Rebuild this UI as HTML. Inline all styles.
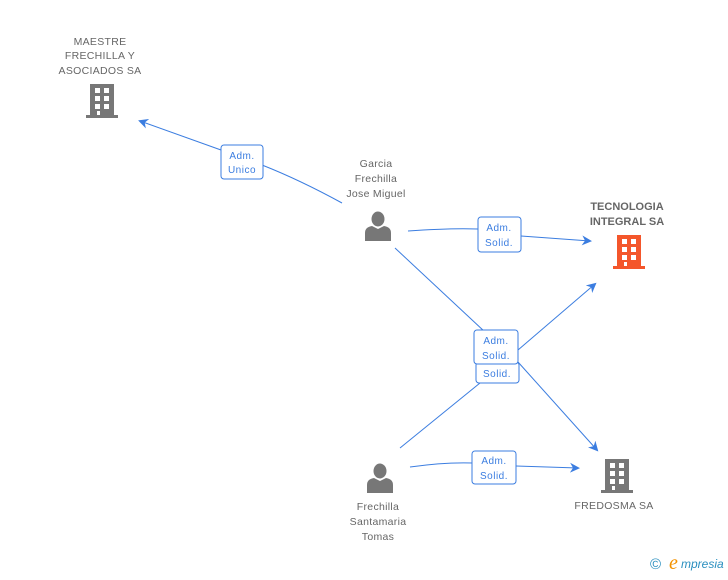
<!DOCTYPE html>
<html><head><meta charset="utf-8"><style>
body{margin:0;width:728px;height:575px;background:#fff;overflow:hidden;font-family:"Liberation Sans",sans-serif}
</style></head><body>
<svg width="728" height="575" viewBox="0 0 728 575" xmlns="http://www.w3.org/2000/svg" font-family="Liberation Sans, sans-serif">
<defs>
<g id="bld">
<rect x="4" y="0" width="24" height="31"/>
<rect x="0" y="31" width="32" height="3"/>
</g>
<g id="win" fill="#fff">
<rect x="9" y="4" width="5" height="5"/><rect x="18" y="4" width="5" height="5"/>
<rect x="9" y="12" width="5" height="5"/><rect x="18" y="12" width="5" height="5"/>
<rect x="9" y="20" width="5" height="5"/><rect x="18" y="20" width="5" height="5"/>
<rect x="11" y="27" width="3" height="4"/>
</g>
<g id="per" fill="#777">
<ellipse cx="13" cy="7" rx="6.5" ry="7.5"/>
<path d="M0 29 L0 21 Q0 15 7 14 L13 17 L19 14 Q26 15 26 21 L26 29 Z"/>
</g>
<marker id="ar" markerWidth="10" markerHeight="10" refX="8" refY="5" orient="auto" markerUnits="userSpaceOnUse"><path d="M0 0 L10 5 L0 10 L3 5 Z" fill="#3b7de0"/></marker>
</defs>
<g stroke="#3b7de0" stroke-width="1" fill="none">
<path d="M342 203 Q300 180 262 165"/>
<path d="M221 150 L140 121" marker-end="url(#ar)"/>
<path d="M408 231 Q450 228 478 229"/>
<path d="M521 236 L590 241" marker-end="url(#ar)"/>
<path d="M395 248 L485 332"/>
<path d="M518 350 L595 284" marker-end="url(#ar)"/>
<path d="M518 362 L597 450" marker-end="url(#ar)"/>
<path d="M400 448 L480 383"/>
<path d="M410 467 Q445 462 473 463"/>
<path d="M516 466 L578 468" marker-end="url(#ar)"/>
</g>
<g fill="#fff" stroke="#3b7de0" stroke-width="1">
<rect x="221" y="145" width="42" height="34" rx="3"/>
<rect x="478" y="217" width="43" height="35" rx="3"/>
<rect x="476" y="362" width="43" height="21" rx="3"/>
<rect x="474" y="330" width="44" height="34" rx="3"/>
<rect x="472" y="451" width="44" height="33" rx="3"/>
</g>
<g fill="#3b7de0" font-size="10" text-anchor="middle" letter-spacing="0.5">
<text x="242" y="159">Adm.</text><text x="242" y="173">Unico</text>
<text x="499" y="231">Adm.</text><text x="499" y="246">Solid.</text>
<text x="497" y="377">Solid.</text>
<text x="496" y="344">Adm.</text><text x="496" y="359">Solid.</text>
<text x="494" y="464">Adm.</text><text x="494" y="479">Solid.</text>
</g>
<g fill="#777"><use href="#bld" x="86" y="84"/><use href="#bld" x="601" y="459"/></g>
<use href="#win" x="86" y="84"/><use href="#win" x="601" y="459"/>
<g fill="#f4562b"><use href="#bld" x="613" y="235"/></g>
<use href="#win" x="613" y="235"/>
<use href="#per" x="365" y="212"/>
<use href="#per" x="367" y="464"/>
<g fill="#666" font-size="10.5" text-anchor="middle" letter-spacing="0.3">
<text x="100" y="45">MAESTRE</text><text x="100" y="59">FRECHILLA Y</text><text x="100" y="74">ASOCIADOS SA</text>
<text x="376" y="167">Garcia</text><text x="376" y="182">Frechilla</text><text x="376" y="197">Jose Miguel</text>
<text x="378" y="510">Frechilla</text><text x="378" y="525">Santamaria</text><text x="378" y="540">Tomas</text>
<text x="614" y="509">FREDOSMA SA</text>
<text x="627" y="210" font-weight="bold" font-size="11" letter-spacing="0">TECNOLOGIA</text>
<text x="627" y="225" font-weight="bold" font-size="11" letter-spacing="0">INTEGRAL SA</text>
</g>
<text x="650" y="569" fill="#2a8fbf" font-size="15">©</text>
<text x="669" y="569" fill="#f39200" font-size="20" font-style="italic" font-family="Liberation Serif, serif">e</text>
<text x="681" y="568" fill="#2a8fbf" font-size="12" font-style="italic">mpresia</text>
</svg>
</body></html>
